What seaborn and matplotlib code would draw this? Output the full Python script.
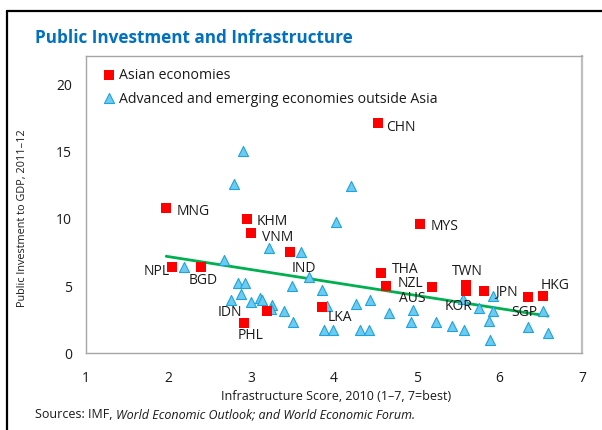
import numpy as np
import pandas as pd
import matplotlib
matplotlib.use("Agg")
import matplotlib.pyplot as plt
from matplotlib.lines import Line2D
import seaborn as sns

# ---------------- data ----------------
asia_codes = ["CHN", "MNG", "KHM", "VNM", "MYS", "IND", "NPL", "BGD", "THA", "NZL",
              "AUS", "TWN", "KOR", "JPN", "SGP", "HKG", "LKA", "IDN", "PHL"]
asia_x = [4.53, 1.97, 2.95, 3.00, 5.04, 3.47, 2.04, 2.39, 4.57, 4.63,
          5.19, 5.60, 5.60, 5.82, 6.35, 6.53, 3.86, 3.19, 2.91]
asia_y = [17.04, 10.74, 9.93, 8.87, 9.56, 7.46, 6.39, 6.39, 5.93, 4.99,
          4.91, 5.04, 4.59, 4.59, 4.17, 4.24, 3.43, 3.13, 2.22]

other_x = [2.90, 2.79, 4.20, 4.03, 3.21, 3.60, 2.67, 2.18, 3.70, 2.84,
           2.92, 3.49, 3.85, 2.88, 2.75, 3.00, 3.11, 3.13, 3.25, 3.24,
           3.39, 3.92, 3.50, 3.88, 3.99, 4.27, 4.44, 4.31, 4.42, 4.67,
           4.95, 4.93, 5.23, 5.43, 5.57, 5.56, 5.75, 5.92, 5.92, 5.87,
           5.89, 6.35, 6.53, 6.59]
other_y = [15.0, 12.5, 12.4, 9.7, 7.8, 7.5, 6.9, 6.4, 5.6, 5.2,
           5.2, 5.0, 4.7, 4.4, 3.9, 3.8, 4.05, 3.9, 3.55, 3.25,
           3.1, 3.5, 2.3, 1.7, 1.7, 3.6, 3.9, 1.7, 1.7, 3.0,
           3.2, 2.3, 2.3, 2.0, 1.7, 4.0, 3.3, 4.2, 3.1, 2.4,
           0.95, 1.95, 3.1, 1.5]

series_names = ["Asian economies", "Advanced and emerging economies outside Asia"]
x_ticks = [1, 2, 3, 4, 5, 6, 7]
y_ticks = [0, 5, 10, 15, 20]

# label offsets (pixels, right / down) relative to each Asian marker
label_offsets = [(23, 4), (27, 2), (25, 2), (26, 3), (25, 2), (14, 15), (-15, 4),
                 (2, 13), (24, -4), (24, -3), (-20, 11), (1, -14), (-8, 14),
                 (22, 0), (-4, 15), (12, -11), (17, 10), (-37, 1), (7, 11)]

# ---------------- figure ----------------
W, H = 602, 431
sns.set_theme(style="white")
plt.rcParams["font.family"] = ["Open Sans", "DejaVu Sans"]

fig = plt.figure(figsize=(W / 100, H / 100), dpi=100)
ax = fig.add_axes([86 / W, 1 - 354 / H, (582 - 86) / W, (354 - 57) / H])

df_asia = pd.DataFrame({"x": asia_x, "y": asia_y, "code": asia_codes})
df_other = pd.DataFrame({"x": other_x, "y": other_y})
df_all = pd.concat([df_asia[["x", "y"]], df_other], ignore_index=True)

sns.regplot(data=df_all, x="x", y="y", scatter=False, ci=None, truncate=True,
            line_kws=dict(color="#00B050", lw=2.0, zorder=2), ax=ax)

sns.scatterplot(data=df_other, x="x", y="y", marker="^", s=52,
                color="#6CCBEE", edgecolor="#1FA3DE", linewidth=0.8,
                ax=ax, zorder=3, label=series_names[1])
sns.scatterplot(data=df_asia, x="x", y="y", marker="s", s=50,
                color="#FF0000", edgecolor="#FF0000", linewidth=0,
                ax=ax, zorder=4, label=series_names[0])

for (code, xv, yv), (dx, dy) in zip(df_asia[["code", "x", "y"]].itertuples(index=False),
                                     label_offsets):
    ax.annotate(code, (xv, yv), xytext=(dx * 0.72, -dy * 0.72),
                textcoords="offset points", ha="center", va="center",
                fontsize=10, color="#1a1a1a", zorder=5)

ax.set_xlim(1, 7)
ax.set_ylim(0, 22)
ax.set_xticks(x_ticks)
ax.set_yticks(y_ticks)
ax.tick_params(axis="both", length=0, labelsize=10, colors="#1a1a1a")
ax.tick_params(axis="x", pad=12)
ax.tick_params(axis="y", pad=10)
for sp in ax.spines.values():
    sp.set_color("#A6A6A6")
    sp.set_linewidth(1.0)
ax.spines["right"].set_linewidth(1.6)
ax.spines["right"].set_color("#BFBFBF")

ax.set_xlabel("")
ax.set_ylabel("")
fig.text(336 / W, 1 - 397 / H, "Infrastructure Score, 2010 (1–7, 7=best)",
         ha="center", va="center", fontsize=9, color="#1a1a1a")
fig.text(22 / W, 1 - 218 / H, "Public Investment to GDP, 2011–12", rotation=90,
         ha="center", va="center", fontsize=7.8, color="#1a1a1a")

# legend
handles, labels = ax.get_legend_handles_labels()
order = [labels.index(series_names[0]), labels.index(series_names[1])]
leg = ax.legend([handles[i] for i in order], [labels[i] for i in order],
                loc="upper left", bbox_to_anchor=(0.02, 0.99), frameon=False,
                fontsize=10.2, handlelength=0.6, handletextpad=0.4,
                labelspacing=0.6, borderaxespad=0.2)
for t in leg.get_texts():
    t.set_color("#1a1a1a")

# title and source
fig.text(35 / W, 1 - 38 / H, "Public Investment and Infrastructure", ha="left",
         va="center", fontsize=12.3, fontweight="bold", color="#0070C0")
src1 = fig.text(35 / W, 1 - 415 / H, "Sources: IMF,", ha="left", va="center",
                fontsize=9, color="#1a1a1a")
fig.canvas.draw()
bb = src1.get_window_extent(renderer=fig.canvas.get_renderer())
fig.text((bb.x1 + 3.5) / W, 1 - 415 / H, "World Economic Outlook; and World Economic Forum.",
         ha="left", va="center", fontsize=9, style="italic", color="#1a1a1a")

# outer frame (left and top edges visible)
fig.add_artist(Line2D([6.5 / W, 6.5 / W], [0, 1 - 12 / H], transform=fig.transFigure,
                      color="black", lw=1.6))
fig.add_artist(Line2D([6.5 / W, 1], [1 - 12 / H, 1 - 12 / H], transform=fig.transFigure,
                      color="black", lw=1.6))

fig.savefig("out.png", dpi=100)
